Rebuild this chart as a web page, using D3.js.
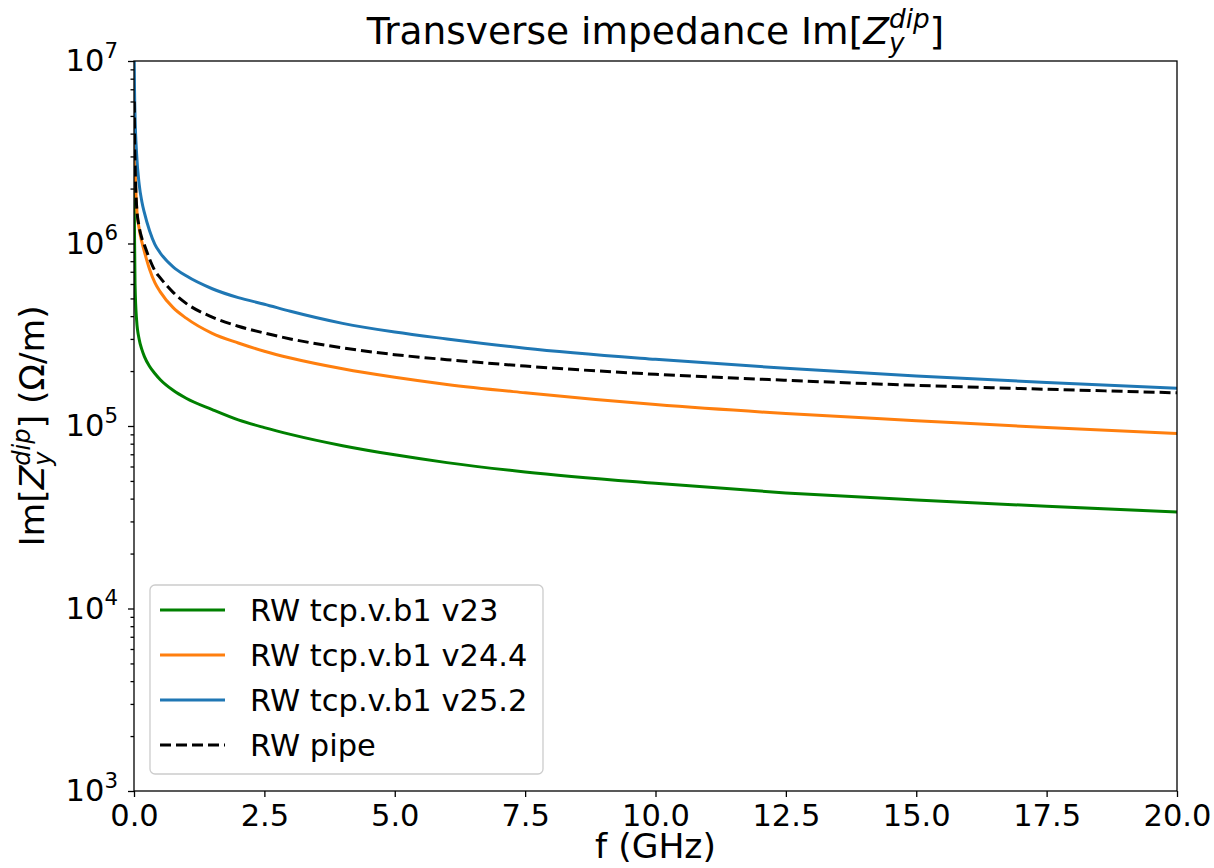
<!DOCTYPE html>
<html>
<head>
<meta charset="utf-8">
<script src="https://cdn.jsdelivr.net/npm/d3@7"></script>
<style>
    body { margin: 0; background: #fff; }
    svg { font-family: "DejaVu Sans", sans-serif; }
</style>
</head>
<body>
<div id="chart-area"></div>
<script>
// frequency samples (GHz)
var freq = [0.005, 0.01, 0.02, 0.05, 0.1, 0.15, 0.2, 0.3, 0.4, 0.5, 0.75, 1, 1.5, 2, 2.5, 3, 4, 5, 6, 7.5, 10, 12.5, 15, 17.5, 20];

// Im[Z_y^dip] in Ohm/m
var v23   = [2.0e6, 1.1e6, 6.0e5, 3.8e5, 2.98e5, 2.63e5, 2.4e5, 2.12e5, 1.94e5, 1.8e5, 1.57e5, 1.42e5, 1.23e5, 1.08e5, 9.8e4, 9.0e4, 7.8e4, 6.95e4, 6.3e4, 5.6e4, 4.85e4, 4.3e4, 3.93e4, 3.63e4, 3.38e4];
var v244  = [5.0e6, 3.8e6, 2.7e6, 1.6e6, 1.2e6, 1.02e6, 9.0e5, 7.2e5, 6.1e5, 5.45e5, 4.45e5, 3.9e5, 3.22e5, 2.85e5, 2.57e5, 2.36e5, 2.06e5, 1.85e5, 1.69e5, 1.52e5, 1.31e5, 1.17e5, 1.07e5, 9.8e4, 9.1e4];
var v252  = [1.0e7, 7.0e6, 5.0e6, 3.1e6, 2.1e6, 1.7e6, 1.47e6, 1.17e6, 9.9e5, 8.9e5, 7.45e5, 6.65e5, 5.65e5, 5.05e5, 4.65e5, 4.25e5, 3.65e5, 3.27e5, 3.0e5, 2.67e5, 2.32e5, 2.07e5, 1.88e5, 1.73e5, 1.61e5];
var pipe  = [6.0e6, 4.0e6, 2.8e6, 1.6e6, 1.23e6, 1.07e6, 9.8e5, 8.2e5, 7.1e5, 6.5e5, 5.4e5, 4.7e5, 3.95e5, 3.52e5, 3.23e5, 3.0e5, 2.68e5, 2.46e5, 2.31e5, 2.13e5, 1.92e5, 1.78e5, 1.67e5, 1.59e5, 1.52e5];

var seriesNames = ["RW tcp.v.b1 v23", "RW tcp.v.b1 v24.4", "RW tcp.v.b1 v25.2", "RW pipe"];
var seriesValues = [v23, v244, v252, pipe];
var seriesColors = ["#008000", "#ff7f0e", "#1f77b4", "#000000"];
var seriesDash = [null, null, null, "11,5"];

var xTicks = [0, 2.5, 5, 7.5, 10, 12.5, 15, 17.5, 20];
var yExponents = [3, 4, 5, 6, 7];

// Dimensions
var margin = { left: 134, right: 37, top: 61, bottom: 77 };
var width = 1214 - margin.left - margin.right,
    height = 868 - margin.top - margin.bottom;
var fs = 30.5;      // ticks + legend
var fsLabel = 34.5; // axis labels
var fsTitle = 37.5;

var svg = d3.select("#chart-area")
    .append("svg")
        .attr("width", 1214)
        .attr("height", 868);
var g = svg.append("g")
    .attr("transform", "translate(" + margin.left + "," + margin.top + ")");

// Scales
var x = d3.scaleLinear().domain([0, 20]).range([0, width]);
var y = d3.scaleLog().domain([1e3, 1e7]).range([height, 0]);

// clip for lines
g.append("clipPath").attr("id", "clip")
    .append("rect").attr("width", width).attr("height", height);

// Lines
var line = d3.line()
    .x(function(d){ return x(d[0]); })
    .y(function(d){ return y(d[1]); })
    .curve(d3.curveMonotoneX);

var lines = g.append("g").attr("clip-path", "url(#clip)");
// pipe is drawn last so it sits on top
[0, 1, 2, 3].forEach(function(i){
    var pts = freq.map(function(f, j){ return [f, seriesValues[i][j]]; });
    lines.append("path")
        .attr("d", line(pts))
        .attr("fill", "none")
        .attr("stroke", seriesColors[i])
        .attr("stroke-width", 3)
        .attr("stroke-dasharray", seriesDash[i]);
});

// X Axis
var xAxisGroup = g.append("g")
    .attr("transform", "translate(0," + height + ")")
    .call(d3.axisBottom(x).tickValues(xTicks).tickSize(6).tickPadding(7)
        .tickFormat(d3.format(".1f")));

// Y Axis - minor ticks
var minors = [];
yExponents.slice(0, -1).forEach(function(e){
    for (var k = 2; k < 10; k++) minors.push(k * Math.pow(10, e));
});
g.append("g")
    .call(d3.axisLeft(y).tickValues(minors).tickSize(3.5).tickFormat(""));

// Y Axis - major ticks with 10^n labels
var yAxisGroup = g.append("g")
    .call(d3.axisLeft(y).tickValues(yExponents.map(function(e){ return Math.pow(10, e); }))
        .tickSize(6).tickPadding(10).tickFormat(""));
yAxisGroup.selectAll(".tick text").each(function(d){
    var t = d3.select(this);
    t.append("tspan").text("10");
    t.append("tspan").attr("font-size", fs * 0.7).attr("dy", -fs * 0.45)
        .text(Math.round(Math.log10(d)));
});

g.selectAll(".domain").remove();
g.selectAll(".tick line").attr("stroke", "#000").attr("stroke-width", 1.3);
g.selectAll(".tick text").attr("font-size", fs).attr("fill", "#000")
    .attr("font-family", "DejaVu Sans");

// frame
g.append("rect")
    .attr("width", width).attr("height", height)
    .attr("fill", "none").attr("stroke", "#000").attr("stroke-width", 1.3);

// mathtext helper: prefix + Z_y^dip + suffix
function mathLabel(sel, prefix, suffix, size) {
    sel.append("tspan").text(prefix);
    sel.append("tspan").attr("font-style", "italic").text("Z");
    var sup = sel.append("tspan").attr("font-style", "italic")
        .attr("font-size", size * 0.7).attr("dy", -size * 0.42).text("dip");
    var supLen = sup.node().getComputedTextLength();
    var sub = sel.append("tspan").attr("font-style", "italic")
        .attr("font-size", size * 0.7).attr("dx", -supLen)
        .attr("dy", size * 0.62).text("y");
    var subLen = sub.node().getComputedTextLength();
    sel.append("tspan").attr("dx", supLen - subLen).attr("dy", -size * 0.2).text(suffix);
}

// Title
var title = svg.append("text")
    .attr("x", margin.left + width / 2)
    .attr("y", 44)
    .attr("font-size", fsTitle)
    .attr("text-anchor", "middle");
mathLabel(title, "Transverse impedance Im[", "]", fsTitle);

// X Label
svg.append("text")
    .attr("x", margin.left + width / 2)
    .attr("y", 858)
    .attr("font-size", fsLabel)
    .attr("text-anchor", "middle")
    .text("f (GHz)");

// Y Label
var yLabel = svg.append("text")
    .attr("transform", "translate(44," + (margin.top + height / 2) + ") rotate(-90)")
    .attr("font-size", fsLabel)
    .attr("text-anchor", "middle");
mathLabel(yLabel, "Im[", "] (\u03A9/m)", fsLabel);

// Legend
var legend = g.append("g").attr("transform", "translate(16,524)");
legend.append("rect")
    .attr("width", 393).attr("height", 189).attr("rx", 5)
    .attr("fill", "#fff").attr("fill-opacity", 0.8)
    .attr("stroke", "#cccccc").attr("stroke-width", 1.3);
seriesNames.forEach(function(name, i){
    var row = legend.append("g").attr("transform", "translate(0," + (25 + i * 45) + ")");
    row.append("line")
        .attr("x1", 10).attr("x2", 75)
        .attr("stroke", seriesColors[i]).attr("stroke-width", 3)
        .attr("stroke-dasharray", seriesDash[i]);
    row.append("text")
        .attr("x", 100).attr("y", 10.5)
        .attr("font-size", fs)
        .text(name);
});
</script>
</body>
</html>
